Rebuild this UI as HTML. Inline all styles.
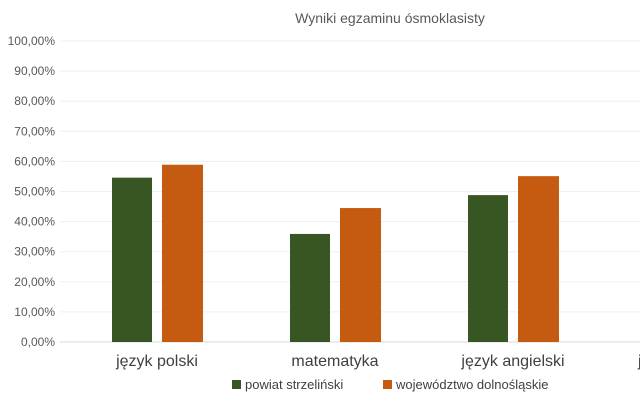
<!DOCTYPE html>
<html><head><meta charset="utf-8"><style>
body{margin:0;background:#fff;width:640px;height:400px;overflow:hidden}
svg text{font-family:"Liberation Sans",sans-serif}
</style></head><body>
<svg id="c" width="640" height="400">
<text x="390" y="23" text-anchor="middle" font-size="14" fill="#595959">Wyniki egzaminu ósmoklasisty</text>
<g id="grid"></g><g id="bars"></g><g id="xl"></g>
<g>
<rect x="232" y="380" width="9" height="9" fill="#375623"/>
<text x="245" y="389" font-size="13" fill="#404040">powiat strzeliński</text>
<rect x="383" y="380" width="9" height="9" fill="#C55A11"/>
<text x="396" y="389" font-size="13" fill="#404040">województwo dolnośląskie</text>
</g>
</svg>
<script>
const categories=["język polski","matematyka","język angielski","j"];
const powiat=[54.6,35.9,48.8,null];
const wojew=[58.9,44.5,55.1,null];
const ticks=[0,10,20,30,40,50,60,70,80,90,100];
const tickLabels=["0,00%","10,00%","20,00%","30,00%","40,00%","50,00%","60,00%","70,00%","80,00%","90,00%","100,00%"];
const NS="http://www.w3.org/2000/svg";
const y=v=>342-v*3.01;
const xc=i=>157+i*178;
function mk(t,a,p){const e=document.createElementNS(NS,t);for(const k in a)e.setAttribute(k,a[k]);p.appendChild(e);return e;}
const g=document.getElementById('grid');
ticks.forEach((t,i)=>{
 const l=mk('line',{x1:60,x2:640,y1:y(t),y2:y(t),stroke:t===0?'#d9d9d9':'#efefef','stroke-width':1},g);
 
 
 const tx=mk('text',{x:55,y:y(t)+4,'text-anchor':'end','font-size':12,fill:'#595959'},g);
 tx.textContent=tickLabels[i];
 
 
});
const b=document.getElementById('bars'),xl=document.getElementById('xl');
categories.forEach((c,i)=>{
 if(powiat[i]!=null){
  const r=mk('rect',{x:xc(i)-45,y:y(powiat[i]),width:40,height:342-y(powiat[i]),fill:'#375623'},b);
  
  
 }
 if(wojew[i]!=null){
  const r=mk('rect',{x:xc(i)+5,y:y(wojew[i]),width:41,height:342-y(wojew[i]),fill:'#C55A11'},b);
  
  
 }
 const t=mk('text',{x:i<3?xc(i):638,y:366,'text-anchor':i<3?'middle':'start','font-size':16,fill:'#404040','font-family':'Liberation Serif, serif'},xl);
 t.textContent=c;
 
 
});
</script>
</body></html>
